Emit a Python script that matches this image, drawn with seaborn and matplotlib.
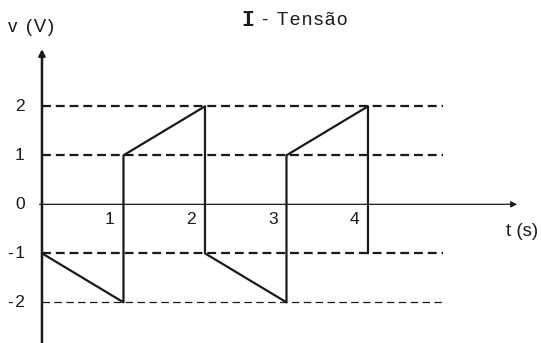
import matplotlib
matplotlib.use("Agg")
import pandas as pd
import matplotlib.pyplot as plt
import seaborn as sns

# waveform corners (t in s, v in V)
t_wave = [0, 1, 1, 2, 2, 3, 3, 4, 4]
v_wave = [-1, -2, 1, 2, -1, -2, 1, 2, -1]

y_ticks = [2, 1, 0, -1, -2]
x_ticks = [1, 2, 3, 4]
dash_levels = [2, 1, -1]
thin_dash_level = -2


def spaced(s):
    # the original lettering is slightly tracked out
    return "\u200a".join(s)


sns.set_theme(style="white")
plt.rcParams["font.family"] = ["Liberation Sans", "DejaVu Sans"]

fig = plt.figure(figsize=(5.41, 3.43), dpi=100)
ax = fig.add_axes([0, 0, 1, 1])
ax.set_xlim(-0.515, 6.123)
ax.set_ylim(-2.83, 4.17)

ink = "#1a1a1a"

# guide lines
ax.hlines(dash_levels, 0, 4.92, colors=ink, linestyles=(0, (4, 2.2)), linewidth=1.6)
ax.hlines(thin_dash_level, 0, 4.92, colors=ink, linestyles=(0, (6, 3.5)), linewidth=0.9)

# axes with arrows
ax.annotate("", xy=(0, 3.17), xytext=(0, -2.9),
            arrowprops=dict(arrowstyle="-|>", lw=1.8, color=ink, mutation_scale=9, shrinkA=0, shrinkB=0))
ax.annotate("", xy=(5.83, 0), xytext=(-0.03, 0),
            arrowprops=dict(arrowstyle="-|>", lw=0.9, color=ink, mutation_scale=9, shrinkA=0, shrinkB=0))

df = pd.DataFrame({"t": t_wave, "v": v_wave})
sns.lineplot(data=df, x="t", y="v", sort=False, estimator=None, color=ink, linewidth=1.6, ax=ax)
ax.axis("off")

for v in y_ticks:
    ax.text(-0.21, v, spaced(str(v)), ha="right", va="center", fontsize=12.5, color=ink)
for t in x_ticks:
    ax.text(t - 0.11, -0.306, str(t), ha="right", va="center", fontsize=12.5, color=ink)

ax.text(-0.417, 3.60, spaced("v (V)"), ha="left", va="center", fontsize=13.5, color=ink)
ax.text(6.09, -0.56, "t (s)", ha="right", va="center", fontsize=13.5, color=ink)
ax.text(2.45, 3.76, "I", ha="left", va="center", fontsize=15.5, fontweight="bold",
        family=["Liberation Mono", "DejaVu Sans Mono"], color=ink)
ax.text(2.70, 3.76, spaced("- Tensão"), ha="left", va="center", fontsize=13.5, color=ink)

fig.savefig("out.png", dpi=100)
